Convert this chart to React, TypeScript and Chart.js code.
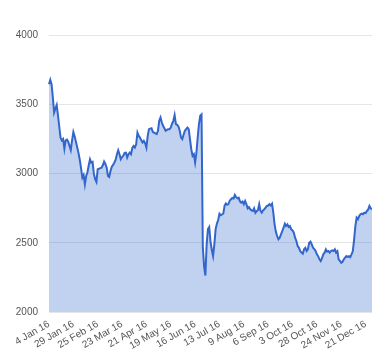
import React, { useEffect, useRef } from "react";
import { Chart, registerables } from "chart.js";

Chart.register(...registerables);

// Tick labels shown every 19 trading days (UK calendar 2016)
const tickLabels: string[] = [
  "4 Jan 16", "29 Jan 16", "25 Feb 16", "23 Mar 16", "21 Apr 16", "19 May 16",
  "16 Jun 16", "13 Jul 16", "9 Aug 16", "6 Sep 16", "3 Oct 16", "28 Oct 16",
  "24 Nov 16", "21 Dec 16",
];
const LABEL_STEP = 19;

// Daily closing values (253 trading days)
const valuesQ1: number[] = [
  3645, 3677, 3645, 3549, 3440, 3470, 3495, 3420, 3340, 3260,
  3240, 3250, 3180, 3240, 3245, 3230, 3200, 3170, 3240, 3300,
  3270, 3230, 3190, 3150, 3100, 3040, 2971, 2990, 2923, 2983,
  3010, 3060, 3104, 3080, 3085, 3000, 2960, 2940, 3032, 3035,
  3040, 3043, 3060, 3087, 3070, 3043, 2983, 2976, 3020, 3050,
  3063, 3080, 3100, 3140, 3169, 3140, 3104, 3120, 3130, 3150,
  3152, 3116, 3140,
];
const valuesQ2: number[] = [
  3152, 3140, 3185, 3200, 3188, 3212, 3296, 3272, 3260, 3240,
  3224, 3236, 3220, 3188, 3272, 3321, 3325, 3328, 3300, 3296,
  3290, 3285, 3309, 3381, 3405, 3370, 3345, 3328, 3309, 3315,
  3321, 3321, 3332, 3360, 3381, 3422, 3357, 3352, 3340, 3309,
  3260, 3249, 3280, 3309, 3321, 3332, 3320, 3249, 3176, 3128,
  3140, 3080, 3150, 3260, 3357, 3417, 3427, 2470, 2330, 2265,
  2490, 2600, 2615, 2510,
];
const valuesQ3: number[] = [
  2450, 2405, 2490, 2600, 2640, 2665, 2711, 2700, 2705, 2712,
  2770, 2785, 2775, 2780, 2805, 2815, 2825, 2820, 2846, 2830,
  2822, 2827, 2800, 2791, 2798, 2779, 2803, 2780, 2750, 2759,
  2743, 2735, 2731, 2750, 2718, 2730, 2736, 2779, 2731, 2718,
  2735, 2743, 2755, 2767, 2770, 2779, 2770, 2783, 2718, 2634,
  2580, 2550, 2526, 2538, 2562, 2586, 2610, 2639, 2622, 2634,
  2615, 2622, 2598, 2591, 2574,
];
const valuesQ4: number[] = [
  2538, 2514, 2478, 2465, 2442, 2430, 2422, 2454, 2465, 2442,
  2454, 2502, 2510, 2490, 2465, 2455, 2442, 2418, 2405, 2382,
  2370, 2390, 2418, 2430, 2454, 2437, 2442, 2430, 2442, 2447,
  2442, 2454, 2430, 2440, 2382, 2370, 2357, 2364, 2382, 2394,
  2405, 2400, 2405, 2398, 2418, 2440, 2520, 2620, 2682, 2671,
  2694, 2707, 2711, 2707, 2718, 2715, 2731, 2740, 2767, 2750,
  2743,
];
const values: number[] = [...valuesQ1, ...valuesQ2, ...valuesQ3, ...valuesQ4];
const categories: string[] = values.map((_, i) => String(i));

const yTicks: number[] = [2000, 2500, 3000, 3500, 4000];

export default function App() {
  const ref = useRef<HTMLCanvasElement | null>(null);
  useEffect(() => {
    if (!ref.current) return;
    const chart = new Chart(ref.current, {
      type: "line",
      data: {
        labels: categories,
        datasets: [
          {
            data: values,
            borderColor: "#3366cc",
            backgroundColor: "rgba(51,102,204,0.3)",
            borderWidth: 2,
            pointRadius: 0,
            tension: 0,
            fill: "start",
          },
        ],
      },
      options: {
        animation: false,
        responsive: true,
        maintainAspectRatio: false,
        layout: { padding: { top: 27, left: 8, right: 0, bottom: 2 } },
        plugins: { legend: { display: false }, tooltip: { enabled: false } },
        scales: {
          x: {
            grid: { display: false, drawTicks: false },
            border: { display: false },
            afterFit: (axis: any) => {
              axis.paddingLeft = 0;
              axis.paddingRight = 0;
            },
            ticks: {
              autoSkip: false,
              minRotation: 30,
              maxRotation: 30,
              padding: 6,
              color: "#555",
              font: { family: "'Liberation Sans', Arial, sans-serif", size: 10 },
              callback: (_v: any, idx: number) =>
                idx % LABEL_STEP === 0 && tickLabels[idx / LABEL_STEP] !== undefined
                  ? tickLabels[idx / LABEL_STEP]
                  : null,
            },
          },
          y: {
            min: yTicks[0],
            max: yTicks[yTicks.length - 1],
            afterBuildTicks: (axis: any) => {
              axis.ticks = yTicks.map((v) => ({ value: v }));
            },
            afterFit: (axis: any) => {
              axis.width = 33;
            },
            grid: { color: "#e6e6e6", drawTicks: false },
            border: { display: false },
            ticks: {
              padding: 11,
              color: "#555",
              font: { family: "'Liberation Sans', Arial, sans-serif", size: 10 },
              callback: (v: any) => String(v),
            },
          },
        },
      },
    });
    return () => chart.destroy();
  }, []);
  return (
    <div style={{ position: "relative", width: 364, height: 352 }}>
      <canvas ref={ref} />
    </div>
  );
}
